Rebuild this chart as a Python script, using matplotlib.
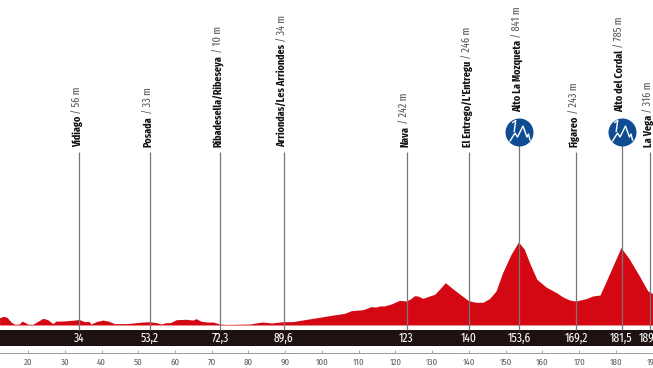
import matplotlib
matplotlib.use("Agg")
import matplotlib.pyplot as plt
from matplotlib.transforms import Affine2D

narrow = ['Fira Sans Extra Condensed', 'Liberation Sans Narrow', 'DejaVu Sans']
plt.rcParams['font.family'] = narrow

# profile: km, metres
km = [12.4, 13.5, 14.4, 15.6, 16.5, 17.8, 18.5, 19.4, 20.1, 21.5, 22.8, 24.2, 25.5, 26.9, 27.8,
      29.6, 31.9, 32.8, 34, 35.5, 36.7, 37.3, 38.7, 40.5, 41.9, 43.7, 46.9, 48.7, 51.4, 53.2,
      55.1, 56.4, 57.8, 58.9, 60.5, 63.2, 65, 65.9, 67.3, 69.1, 70.5, 72.3, 74.1, 77.8, 80.5,
      83.2, 84.1, 86.4, 88.7, 89.6, 92.2, 95.9, 99.5, 102.2, 106.3, 108.1, 111.3, 113.5, 114.9,
      115.8, 117.1, 119, 121.2, 123, 124.2, 125.3, 126.2, 127.6, 129.4, 130.8, 132.1, 133.7,
      135.7, 137.6, 140, 142.1, 143.9, 145.7, 147.5, 149.3, 151.6, 153.6, 155.2, 156.6, 158.6,
      161.1, 163.9, 165.7, 167.5, 169.2, 172, 173.8, 175.8, 177.5, 179.3, 181.5, 183.8, 186.5,
      188.8, 190.2]
elev = [74, 88, 78, 27, 8, 10, 40, 24, 8, 8, 37, 68, 54, 14, 40,
        40, 47, 50, 56, 34, 37, 10, 34, 50, 40, 14, 14, 20, 30, 33,
        24, 10, 24, 24, 54, 58, 50, 64, 37, 30, 30, 10, 6, 8, 10,
        27, 30, 20, 30, 34, 34, 57, 78, 95, 118, 145, 155, 186, 182,
        193, 193, 213, 250, 243, 264, 297, 294, 270, 294, 311, 362, 429,
        368, 314, 246, 230, 230, 267, 345, 531, 717, 841, 767, 632, 463,
        385, 328, 284, 253, 243, 267, 294, 304, 446, 598, 785, 666, 497,
        345, 316]

places = ["Vidiago", "Posada", "Ribadesella/Ribeseya", "Arriondas/Les Arriondes", "Nava",
          "El Entrego/L'Entregu", "Alto La Mozqueta", "Figareo", "Alto del Cordal", "La Vega"]
place_km = [34, 53.2, 72.3, 89.6, 123, 140, 153.6, 169.2, 181.5, 189.3]
place_m = [56, 33, 10, 34, 242, 246, 841, 243, 785, 316]
km_labels = ["34", "53,2", "72,3", "89,6", "123", "140", "153,6", "169,2", "181,5", "189,3"]
climbs = ["Alto La Mozqueta", "Alto del Cordal"]
ticks = list(range(20, 200, 10))

red = "#d40812"
grey = "#77777a"
dark = "#1d1112"
blue = "#0f4c92"

# 0.0987 px per metre, 3.675 px per km
fig = plt.figure(figsize=(6.53, 3.68), dpi=100)
ax = fig.add_axes([0, 14.7 / 368, 1, 353.3 / 368])
ax.set_xlim(12.38, 190.07)
ax.set_ylim(-281.7, 3298)

ax.fill_between(km, 0, elev, color=red, lw=0, zorder=2)
ax.axhspan(-212, -45, color=dark, lw=0, zorder=2)

for s in ["top", "left", "right"]:
    ax.spines[s].set_visible(False)
ax.spines["bottom"].set_color("#999999")
ax.spines["bottom"].set_linewidth(0.7)
ax.set_yticks([])
ax.set_xticks(ticks)
ax.tick_params(axis="x", direction="in", length=2, width=0.6, color="#999999",
               labelsize=7, labelcolor="#666666", pad=3)

renderer = fig.canvas.get_renderer()
for name, k, m, lab in zip(places, place_km, place_m, km_labels):
    climb = name in climbs
    top = 1960 if climb else 1758
    ax.vlines(k, -45, top, color=grey, lw=0.9, zorder=3)
    ax.text(k, -128, lab, color="white", fontsize=9, ha="center", va="center", zorder=4)

    base = 2163 if climb else 1808
    t = ax.annotate(name, (k, base), xytext=(-1, 0), textcoords="offset points", rotation=90,
                    ha="center", va="bottom", fontsize=7.8, fontweight="bold", color="#111111")
    h = t.get_window_extent(renderer).height * 72 / fig.dpi
    ax.annotate(" / %d m" % m, (k, base), xytext=(-1, h), textcoords="offset points", rotation=90,
                ha="center", va="bottom", fontsize=8, color="#555555")

    if climb:
        ax.scatter([k], [1960], s=406, color=blue, lw=0, zorder=5)
        cx, cy = ax.transData.transform((k, 1960))
        peak = Affine2D().scale(1, -1).translate(cx, cy)
        ax.plot([-9, -4, -1.5, 4, 8, 9.5, 11], [9, 1, 5, -6, 5, 2, 8], color="white", lw=1.0,
                transform=peak, zorder=6, clip_on=False)
        ax.annotate("1", (k, 1960), xytext=(-4.5, 3.5), textcoords="offset points", color="white",
                    fontsize=12, style="italic", ha="center", va="center", zorder=6)

fig.savefig("out.png", dpi=100)
